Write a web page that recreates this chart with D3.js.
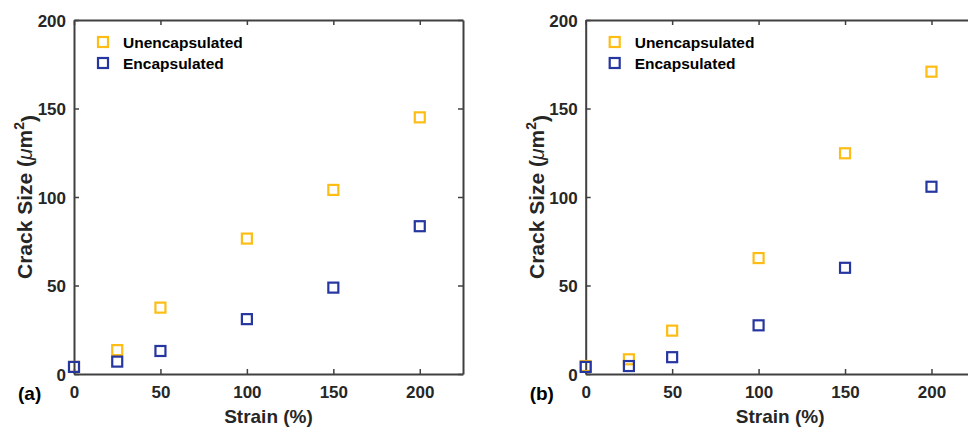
<!DOCTYPE html>
<html>
<head>
<meta charset="utf-8">
<script src="https://cdn.jsdelivr.net/npm/d3@7"></script>
<style>
  html, body { margin: 0; padding: 0; background: #fff; }
  svg { display: block; }
  text { font-family: "Liberation Sans", Arial, Helvetica, sans-serif; font-weight: bold; }
</style>
</head>
<body>
<svg id="chart" width="968" height="427"></svg>
<script>
// Strain levels (%)
const strain = [0, 25, 50, 100, 150, 200];

// Crack size (µm²), panel (a)
const unencapA = [4, 13.5, 37.5, 76.5, 104, 145];
const encapA   = [4, 7, 13, 31, 48.8, 83.5];

// Crack size (µm²), panel (b)
const unencapB = [4.5, 8.3, 24.5, 65.5, 124.7, 170.8];
const encapB   = [4, 4.5, 9.5, 27.5, 60, 105.8];

const xTicks = [0, 50, 100, 150, 200];
const yTicks = [0, 50, 100, 150, 200];
const seriesNames = ["Unencapsulated", "Encapsulated"];
const seriesColors = ["#FDBD14", "#2636A0"];

const svg = d3.select("#chart");

function drawPanel(left, label, unencap, encap) {
  const top = 20, bottom = 374, width = 389;
  const x = d3.scaleLinear().domain([0, 225]).range([left, left + width]);
  const y = d3.scaleLinear().domain([0, 200]).range([bottom, top]);
  const axisColor = "#404040";
  const g = svg.append("g");

  // bottom axis with inward ticks
  const xa = g.append("g").attr("transform", `translate(0,${bottom})`)
    .call(d3.axisBottom(x).tickValues(xTicks).tickSizeInner(-5).tickSizeOuter(0).tickPadding(12));
  // left axis with inward ticks
  const ya = g.append("g").attr("transform", `translate(${left},0)`)
    .call(d3.axisLeft(y).tickValues(yTicks).tickSizeInner(-5).tickSizeOuter(0).tickPadding(8));
  // top and right axes (box), ticks only
  const xt = g.append("g").attr("transform", `translate(0,${top})`)
    .call(d3.axisTop(x).tickValues(xTicks).tickSizeInner(-5).tickSizeOuter(0).tickFormat(""));
  const yr = g.append("g").attr("transform", `translate(${left + width},0)`)
    .call(d3.axisRight(y).tickValues(yTicks).tickSizeInner(-5).tickSizeOuter(0).tickFormat(""));

  [xa, ya, xt, yr].forEach(a => {
    a.select(".domain").attr("stroke", axisColor).attr("stroke-width", 2);
    a.selectAll(".tick line").attr("stroke", axisColor).attr("stroke-width", 1.5);
    a.selectAll(".tick text").attr("fill", "#262626")
      .style("font-size", "17px").style("font-weight", "bold")
      .style("font-family", "'Liberation Sans', Arial, sans-serif");
  });
  xa.selectAll(".tick text").attr("dy", "0.71em");
  ya.selectAll(".tick text").attr("dy", "0.36em");

  // axis titles
  g.append("text")
    .attr("x", (left + left + width) / 2).attr("y", 423)
    .attr("text-anchor", "middle").attr("fill", "#262626")
    .style("font-size", "19px").text("Strain (%)");

  const yl = g.append("text")
    .attr("transform", `translate(${left - 42},${(top + bottom) / 2}) rotate(-90)`)
    .attr("text-anchor", "middle").attr("fill", "#262626")
    .style("font-size", "21px");
  yl.append("tspan").text("Crack Size (");
  yl.append("tspan").style("font-style", "italic").style("font-weight", "normal").text("\u03BC");
  yl.append("tspan").text("m");
  yl.append("tspan").attr("dy", "-0.55em").style("font-size", "14px").text("2");
  yl.append("tspan").attr("dy", "0.55em").text(")");

  // panel label
  g.append("text").attr("x", left - 56).attr("y", 400)
    .attr("fill", "#000").style("font-size", "19px").text(label);

  // markers: unencapsulated first, encapsulated on top
  const side = 10;
  [unencap, encap].forEach((vals, si) => {
    g.append("g").selectAll("rect").data(strain.map((s, i) => [s, vals[i]])).join("rect")
      .attr("x", d => x(d[0]) - side / 2).attr("y", d => y(d[1]) - side / 2)
      .attr("width", side).attr("height", side)
      .attr("fill", "none").attr("stroke", seriesColors[si]).attr("stroke-width", 2.2);
  });

  // legend
  seriesNames.forEach((name, i) => {
    const ly = 42 + i * 21;
    g.append("rect").attr("x", left + 29 - side / 2).attr("y", ly - side / 2)
      .attr("width", side).attr("height", side)
      .attr("fill", "none").attr("stroke", seriesColors[i]).attr("stroke-width", 2.2);
    g.append("text").attr("x", left + 49).attr("y", ly + 6)
      .attr("fill", "#000").style("font-size", "15.5px").text(name);
  });
}

drawPanel(74, "(a)", unencapA, encapA);
drawPanel(585.7, "(b)", unencapB, encapB);
</script>
</body>
</html>
